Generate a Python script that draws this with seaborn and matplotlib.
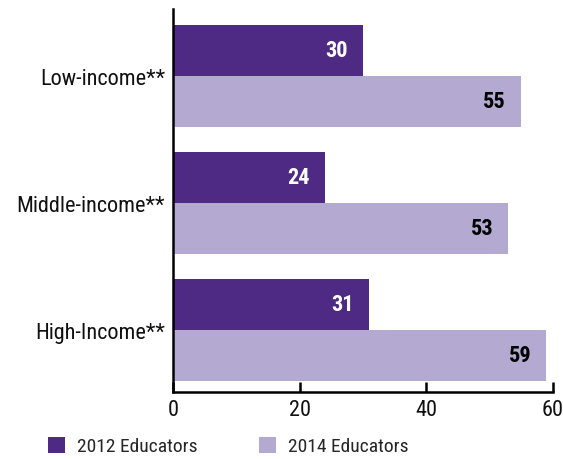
import matplotlib
matplotlib.use("Agg")
import matplotlib.pyplot as plt
from matplotlib import font_manager as fm
import seaborn as sns
import pandas as pd

# Share of educators by school income level
categories = ["Low-income**", "Middle-income**", "High-Income**"]
series_names = ["2012 Educators", "2014 Educators"]
values_2012 = [30, 24, 31]
values_2014 = [55, 53, 59]
x_ticks = [0, 20, 40, 60]

colors = {"2012 Educators": "#4e2a84", "2014 Educators": "#b4a9d0"}
label_colors = {"2012 Educators": "white", "2014 Educators": "black"}

sns.set_theme(style="white")
available = {f.name for f in fm.fontManager.ttflist}
family = next((f for f in ["Roboto Condensed", "Liberation Sans Narrow",
                           "Liberation Sans", "DejaVu Sans"] if f in available))
plt.rcParams["font.family"] = [family, "DejaVu Sans"]

df = pd.DataFrame({
    "category": categories * 2,
    "series": [series_names[0]] * 3 + [series_names[1]] * 3,
    "value": values_2012 + values_2014,
})

fig = plt.figure(figsize=(5.63, 4.60), dpi=100)
ax = fig.add_axes([0.308, 0.1457, 0.9817 - 0.308, 0.978 - 0.1457])

sns.barplot(data=df, y="category", x="value", hue="series", orient="h",
            order=categories, hue_order=series_names, palette=colors,
            saturation=1, width=0.8, linewidth=0, ax=ax, legend=True)

handles, labels = ax.get_legend_handles_labels()
ax.get_legend().remove()

for container, name, vals in zip(ax.containers, series_names, [values_2012, values_2014]):
    for bar, v in zip(container, vals):
        ax.annotate(f"{v}", xy=(v, bar.get_y() + bar.get_height() / 2),
                    xytext=(-11, 0), textcoords="offset points",
                    ha="right", va="center", fontsize=16, fontweight="bold",
                    color=label_colors[name])

ax.set_xlim(0, 60)
ax.set_ylim(2.49, -0.525)
ax.set_xticks(x_ticks)
ax.set_xticklabels([str(t) for t in x_ticks])
ax.set_xlabel("")
ax.set_ylabel("")

for side in ["top", "right"]:
    ax.spines[side].set_visible(False)
for side in ["left", "bottom"]:
    ax.spines[side].set_color("black")
    ax.spines[side].set_linewidth(1.8)

ax.tick_params(axis="x", direction="in", length=7.2, width=1.8, color="black",
               labelsize=16, pad=5, bottom=True)
ax.tick_params(axis="y", length=0, labelsize=16, pad=6)
for lbl in ax.get_xticklabels() + ax.get_yticklabels():
    lbl.set_color("#111111")

fig.legend(handles, labels, loc="center left",
           bbox_to_anchor=(48 / 563, 1 - 447 / 460), ncol=2, frameon=False,
           fontsize=14, handlelength=0.88, handleheight=0.88,
           handletextpad=0.62, columnspacing=3.15, borderpad=0,
           borderaxespad=0)

fig.savefig("out.png", dpi=100, facecolor="white")
